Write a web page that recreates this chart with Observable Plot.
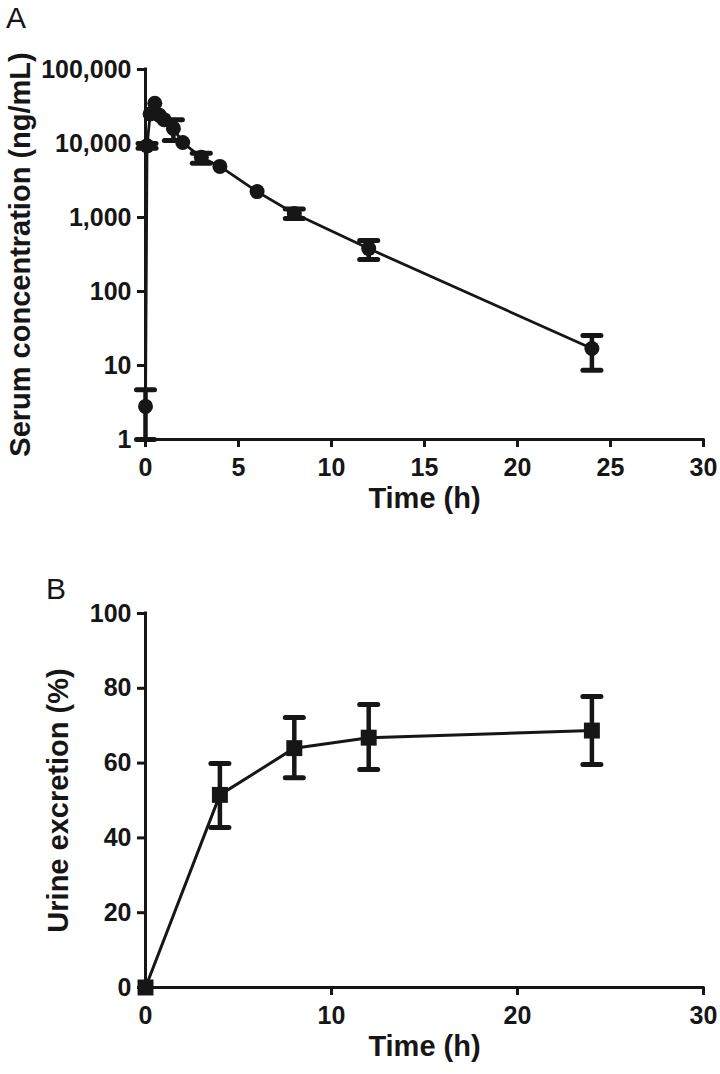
<!DOCTYPE html>
<html>
<head>
<meta charset="utf-8">
<script src="https://cdn.jsdelivr.net/npm/d3@7"></script>
<script src="https://cdn.jsdelivr.net/npm/@observablehq/plot@0.6"></script>
<style>
  html, body { margin: 0; padding: 0; background: #fff; }
  #wrap { position: relative; width: 720px; height: 1074px; font-family: "Liberation Sans", Arial, sans-serif; }
  .panel-label { position: absolute; font-size: 30px; color: #161616; line-height: 1; }
  svg { display: block; }
</style>
</head>
<body>
<div id="wrap">
  <div class="panel-label" style="left:6px; top:3px;">A</div>
  <div class="panel-label" style="left:46px; top:574px;">B</div>
  <div id="a"></div>
  <div id="b"></div>
</div>
<script>
// ---------- Data: panel A (serum concentration, ng/mL) ----------
const timeA = [0, 0.083, 0.25, 0.5, 0.75, 1, 1.5, 2, 3, 4, 6, 8, 12, 24];
const serumMean = [2.8, 9300, 25000, 35000, 24000, 21000, 16000, 10300, 6500, 4900, 2240, 1130, 380, 17];
const serumLow  = [1, 8600, null, null, null, null, 11000, null, 5400, null, null, 970, 270, 8.6];
const serumHigh = [4.7, 10000, null, null, null, null, 21000, null, 7400, null, null, 1300, 490, 25.4];
const ticksA_y = [1, 10, 100, 1000, 10000, 100000];
const ticksA_x = [0, 5, 10, 15, 20, 25, 30];

// ---------- Data: panel B (urine excretion, %) ----------
const timeB = [0, 4, 8, 12, 24];
const urineMean = [0, 51.5, 64, 66.8, 68.7];
const urineLow  = [null, 42.8, 56.1, 58.3, 59.6];
const urineHigh = [null, 59.9, 72.2, 75.7, 77.8];
const ticksB_y = [0, 20, 40, 60, 80, 100];
const ticksB_x = [0, 10, 20, 30];

const INK = "#161616";
const FONT = "'Liberation Sans', Arial, sans-serif";

const dataA = timeA.map((t, i) => ({t, v: serumMean[i], lo: serumLow[i], hi: serumHigh[i]}));
const errA = dataA.filter(d => d.lo != null);
const dataB = timeB.map((t, i) => ({t, v: urineMean[i], lo: urineLow[i], hi: urineHigh[i]}));
const errB = dataB.filter(d => d.lo != null);

const capSymbol = { draw(ctx) { ctx.moveTo(-9, 0); ctx.lineTo(9, 0); } };

const fmtA = d3.format(",");

function errorMarks(err) {
  return [
    Plot.ruleX(err, {x: "t", y1: "lo", y2: "hi", stroke: INK, strokeWidth: 4.5}),
    Plot.dot(err, {x: "t", y: "lo", symbol: capSymbol, fill: "none", stroke: INK, strokeWidth: 5, strokeLinecap: "round"}),
    Plot.dot(err, {x: "t", y: "hi", symbol: capSymbol, fill: "none", stroke: INK, strokeWidth: 5, strokeLinecap: "round"})
  ];
}

const tickText = {fontSize: 25, fontWeight: "bold", fill: INK};
const titleText = {fontSize: 29, fontWeight: "bold", fill: INK};

const plotA = Plot.plot({
  width: 720,
  height: 537,
  marginLeft: 145,
  marginRight: 17,
  marginTop: 69,
  marginBottom: 98,
  style: {fontFamily: FONT, color: INK, background: "white", overflow: "visible"},
  x: {domain: [0, 30]},
  y: {type: "log", domain: [1, 100000]},
  marks: [
    Plot.axisY({ticks: ticksA_y, tickFormat: fmtA, tickSize: 8, tickPadding: 6, strokeWidth: 3, label: null, ...tickText}),
    Plot.axisX({ticks: ticksA_x, tickFormat: d => String(d), tickSize: 8, tickPadding: 11, strokeWidth: 3, label: null, ...tickText}),
    Plot.ruleX([0], {y1: 1, y2: 100000, stroke: INK, strokeWidth: 3, strokeLinecap: "square"}),
    Plot.ruleY([1], {x1: 0, x2: 30, stroke: INK, strokeWidth: 3, strokeLinecap: "square"}),
    ...errorMarks(errA),
    Plot.line(dataA, {x: "t", y: "v", stroke: INK, strokeWidth: 2.8}),
    Plot.dot(dataA, {x: "t", y: "v", r: 7.5, fill: INK, stroke: "none"}),
    Plot.text(["Serum concentration (ng/mL)"], {frameAnchor: "left", textAnchor: "middle", dx: -125, rotate: -90, ...titleText}),
    Plot.text(["Time (h)"], {frameAnchor: "bottom", dy: 68, ...titleText})
  ]
});
document.getElementById("a").appendChild(plotA);

const plotB = Plot.plot({
  width: 720,
  height: 537,
  marginLeft: 145,
  marginRight: 17,
  marginTop: 76,
  marginBottom: 87,
  style: {fontFamily: FONT, color: INK, background: "white", overflow: "visible"},
  x: {domain: [0, 30]},
  y: {domain: [0, 100]},
  marks: [
    Plot.axisY({ticks: ticksB_y, tickSize: 8, tickPadding: 6, strokeWidth: 3, label: null, ...tickText}),
    Plot.axisX({ticks: ticksB_x, tickSize: 8, tickPadding: 11, strokeWidth: 3, label: null, ...tickText}),
    Plot.ruleX([0], {y1: 0, y2: 100, stroke: INK, strokeWidth: 3, strokeLinecap: "square"}),
    Plot.ruleY([0], {x1: 0, x2: 30, stroke: INK, strokeWidth: 3, strokeLinecap: "square"}),
    ...errorMarks(errB),
    Plot.line(dataB, {x: "t", y: "v", stroke: INK, strokeWidth: 3}),
    Plot.dot(dataB, {x: "t", y: "v", r: 9, symbol: "square", fill: INK, stroke: "none"}),
    Plot.text(["Urine excretion (%)"], {frameAnchor: "left", textAnchor: "middle", dx: -87, rotate: -90, ...titleText}),
    Plot.text(["Time (h)"], {frameAnchor: "bottom", dy: 68, ...titleText})
  ]
});
document.getElementById("b").appendChild(plotB);
</script>
</body>
</html>
